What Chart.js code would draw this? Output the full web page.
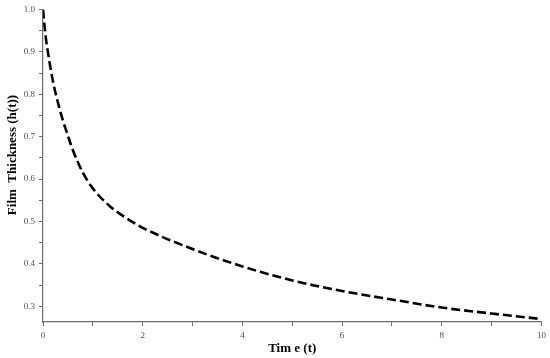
<!DOCTYPE html>
<html>
<head>
<meta charset="utf-8">
<script src="https://cdn.jsdelivr.net/npm/chart.js@4/dist/chart.umd.min.js"></script>
<style>
  html, body { margin: 0; padding: 0; background: #ffffff; }
  #wrap { width: 550px; height: 358px; position: relative; }
</style>
</head>
<body>
<div id="wrap"><canvas id="filmChart"></canvas></div>
<script>
// values
const timeValues = [0, 0.03, 0.06, 0.1, 0.2, 0.3, 0.4, 0.5, 0.6, 0.8, 1.0, 1.34, 1.67, 2, 3, 4, 5, 6, 7, 8, 9, 10];
const thicknessValues = [1.0, 0.962, 0.93, 0.898, 0.83, 0.78, 0.738, 0.702, 0.668, 0.615, 0.578, 0.536, 0.508, 0.485, 0.435, 0.394, 0.361, 0.336, 0.316, 0.297, 0.283, 0.270];

const xTickLabels = ['0', '2', '4', '6', '8', '10'];
const yTickLabels = ['0.3', '0.4', '0.5', '0.6', '0.7', '0.8', '0.9', '1.0'];

const xAxisTitle = 'Tim e (t)';
const yAxisTitle = 'Film  Thickness (h(t))';

function buildPoints() {
    return timeValues.map((t, i) => ({ x: t, y: thicknessValues[i] }));
}

const tickFont = { family: 'Liberation Serif', size: 9 };
const titleFont = { family: 'Liberation Serif', size: 13, weight: 'bold' };
const axisGrey = '#6b6b6b';

// y title sits a little above the middle of the axis in the original, so draw it by hand
const yTitlePlugin = {
    id: 'yTitle',
    afterDraw(chart) {
        const ctx = chart.ctx;
        ctx.save();
        ctx.translate(13, 155);
        ctx.rotate(-Math.PI / 2);
        ctx.font = 'bold 13px "Liberation Serif"';
        ctx.fillStyle = '#000000';
        ctx.textAlign = 'center';
        ctx.textBaseline = 'middle';
        ctx.fillText(yAxisTitle, 0, 0);
        ctx.restore();
    }
};

const config = {
    type: 'line',
    data: {
        datasets: [{
            label: 'h(t)',
            data: buildPoints(),
            borderColor: '#000000',
            borderWidth: 2.6,
            borderDash: [9, 4],
            pointRadius: 0,
            fill: false,
            cubicInterpolationMode: 'monotone'
        }]
    },
    options: {
        responsive: true,
        maintainAspectRatio: false,
        animation: false,
        layout: { padding: { top: 6, right: 7, left: 0, bottom: 0 } },
        plugins: {
            legend: { display: false },
            tooltip: { enabled: false }
        },
        scales: {
            x: {
                type: 'linear',
                min: 0,
                max: 10,
                border: { color: axisGrey, width: 1.2 },
                grid: { drawOnChartArea: false, drawTicks: true, tickLength: 4, color: axisGrey },
                ticks: {
                    stepSize: 1,
                    autoSkip: false,
                    maxRotation: 0,
                    padding: 4,
                    color: '#4a4d55',
                    font: tickFont,
                    callback: (v) => {
                        const s = String(Math.round(v));
                        return xTickLabels.includes(s) && Math.abs(v - Math.round(v)) < 1e-6 ? s : '';
                    }
                },
                title: { display: true, text: xAxisTitle, color: '#000000', font: titleFont, padding: { top: 0, bottom: 2 } },
                afterFit: (scale) => { scale.height = 36; }
            },
            y: {
                type: 'linear',
                min: 0.263,
                max: 1.0,
                border: { color: axisGrey, width: 1.2 },
                grid: { drawOnChartArea: false, drawTicks: true, tickLength: 4, color: axisGrey },
                ticks: {
                    stepSize: 0.05,
                    includeBounds: false,
                    autoSkip: false,
                    padding: 4,
                    color: '#4a4d55',
                    font: tickFont,
                    callback: (v) => {
                        const s = (Math.round(v * 100) / 100).toFixed(1);
                        return Math.round(v * 100) % 10 === 0 && yTickLabels.includes(s) ? s : '';
                    }
                },
                afterFit: (scale) => { scale.width = 43; }
            }
        }
    },
    plugins: [yTitlePlugin]
};

new Chart(document.getElementById('filmChart'), config);
</script>
</body>
</html>
